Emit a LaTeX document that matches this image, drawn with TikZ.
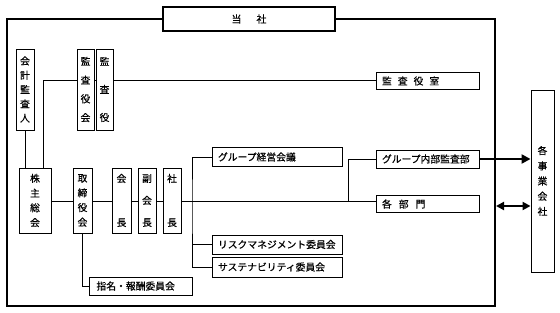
\documentclass[tikz,border=0pt]{standalone}
\usepackage{fontspec}
\setmainfont{Noto Sans CJK JP}[FakeBold=0.6]
\usetikzlibrary{arrows.meta}
\begin{document}
\begin{tikzpicture}[x=1pt,y=-1pt,
  box/.style={draw, line width=0.9pt, inner sep=0pt, fill=white},
  vbox/.style={box, align=center},
  hbox/.style={box, align=left, minimum width=#1pt, text width=#1pt-12pt, font=\fontsize{9.8}{12}\selectfont},
  conn/.style={line width=0.7pt}]
\useasboundingbox (0,0) rectangle (560,313);
% frame
\draw[line width=1.8pt] (7,19) rectangle (495,306);
\node[draw, line width=1.8pt, fill=white, minimum width=172pt, minimum height=24pt, inner sep=0pt, font=\fontsize{10}{12}\selectfont] (title) at (249,19) {当\hspace{15pt}社};
% vertical boxes
\node[vbox, minimum width=18pt, minimum height=81pt, font=\fontsize{9.8}{14.3}\selectfont] (kaikei) at (25,89.5) {会\\計\\監\\査\\人};
\node[vbox, minimum width=17pt, minimum height=81pt, font=\fontsize{9.8}{18.8}\selectfont] (kyk) at (85.5,89.5) {監\\査\\役\\会};
\node[vbox, minimum width=17pt, minimum height=81pt, font=\fontsize{9.8}{28}\selectfont] (ky) at (104.5,89.5) {監\\査\\役};
\node[vbox, minimum width=32pt, minimum height=65pt, font=\fontsize{9.8}{14.7}\selectfont] (kabu) at (35,200.5) {株\\主\\総\\会};
\node[vbox, minimum width=19pt, minimum height=65pt, font=\fontsize{9.8}{14.7}\selectfont] (tori) at (82.5,200.5) {取\\締\\役\\会};
\node[vbox, minimum width=19pt, minimum height=65pt, font=\fontsize{9.8}{44}\selectfont] (kaicho) at (121.5,200.5) {会\\長};
\node[vbox, minimum width=18pt, minimum height=65pt, font=\fontsize{9.8}{22}\selectfont] (fuku) at (147,200.5) {副\\会\\長};
\node[vbox, minimum width=18pt, minimum height=65pt, font=\fontsize{9.8}{44}\selectfont] (shacho) at (172,200.5) {社\\長};
\node[vbox, minimum width=23pt, minimum height=182pt, font=\fontsize{9.8}{15.2}\selectfont] (kaku) at (542.5,181) {各\\事\\業\\会\\社};
% horizontal boxes
\node[hbox=103, minimum height=17pt] (kyr) at (427.5,81) {監\hspace{6pt}査\hspace{6pt}役\hspace{6pt}室};
\node[hbox=103, minimum height=18pt] (gna) at (427.5,159) {グループ内部監査部};
\node[hbox=103, minimum height=17pt] (bumon) at (427.5,204) {各\hspace{7pt}部\hspace{7pt}門};
\node[hbox=130, minimum height=19pt] (gk) at (277,157) {グループ経営会議};
\node[hbox=130, minimum height=19pt] (risk) at (277,244.5) {リスクマネジメント委員会};
\node[hbox=130, minimum height=20pt] (sus) at (277,267) {サステナビリティ委員会};
\node[box, minimum width=103pt, minimum height=18pt, text width=88pt, align=left, font=\fontsize{9.8}{12}\selectfont] (shimei) at (140.5,286) {指名・報酬委員会};
% helper coordinates
\coordinate (kline) at (0,80);
\coordinate (v1) at (192,201);
\coordinate (v2) at (348,201);
\coordinate (fr) at (496,206);
% connectors
\draw[conn] (kaikei.south) -- (kaikei.south |- kabu.north);
\draw[conn] (kyk.west |- kline) -| ([xshift=8pt]kabu.north);
\draw[conn] (kyk.east |- kline) -- (ky.west |- kline);
\draw[conn] (ky.east |- kline) -- (kyr.west |- kline);
\draw[conn] (kabu.east |- v1) -- (tori.west |- v1);
\draw[conn] (tori.east |- v1) -- (kaicho.west |- v1);
\draw[conn] (kaicho.east |- v1) -- (fuku.west |- v1);
\draw[conn] (fuku.east |- v1) -- (shacho.west |- v1);
\draw[conn] (shacho.east |- v1) -- (bumon.west |- v1);
\draw[conn] (gk.west) -| (v1) |- (sus.west);
\draw[conn] (risk.west) -- (risk.west -| v1);
\draw[conn] (gna.west) -| (v2);
\draw[conn] (tori.south) |- (shimei.west);
\draw[line width=2.6pt, -{Triangle[length=9pt,width=9pt]}] (gna.east) -- (kaku.west |- gna.east);
\draw[line width=2pt, {Triangle[length=8pt,width=8pt]}-{Triangle[length=8pt,width=8pt]}] (fr) -- (kaku.west |- fr);
\end{tikzpicture}
\end{document}
